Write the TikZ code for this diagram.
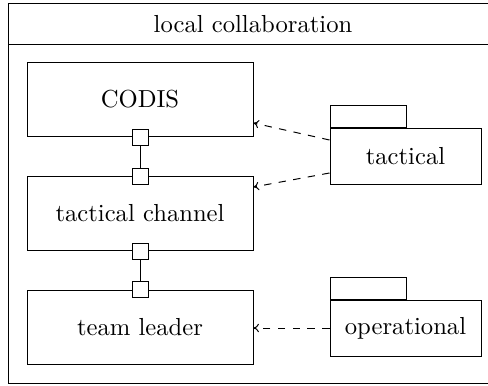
\documentclass[tikz,border=0pt]{standalone}
\usetikzlibrary{calc,positioning,arrows.meta}
\tikzset{
  partbox/.style={draw, minimum width=226\pxu, minimum height=74\pxu, inner sep=0pt},
  portbox/.style={draw, fill=white, minimum size=16\pxu, inner sep=0pt},
  pkgbody/.style={draw, minimum width=151\pxu, minimum height=56\pxu, inner sep=0pt},
  pkgtab/.style={draw, minimum width=76\pxu, minimum height=22\pxu, inner sep=0pt, anchor=south west},
  usedep/.style={dashed, -{To[length=2.2pt, width=3.4pt]}}
}
\newcommand{\pxu}{*0.406pt}
\begin{document}
\begin{tikzpicture}[x=0.406pt, y=-0.406pt]
		%%%%% START %%%%%
		\useasboundingbox (0, 0) rectangle (488, 385);
		
		\draw (8, 3) rectangle (495, 383);
		\draw (8, 44) -- (495, 44);
		\node (title) at (253, 24) {local collaboration};
		
		\node[partbox] (codis) at (140, 99.5) {CODIS};
		\node[partbox] (chan) at (140, 213.5) {tactical channel};
		\node[partbox] (lead) at (140, 327) {team leader};
		
		\node[portbox] (p1) at (codis.south) {};
		\node[portbox] (p2) at (chan.north) {};
		\node[portbox] (p3) at (chan.south) {};
		\node[portbox] (p4) at (lead.north) {};
		\draw (p1) -- (p2);
		\draw (p3) -- (p4);
		
		\node[pkgbody] (tac) at (405.5, 156) {tactical};
		\node[pkgtab] (tactab) at (tac.north west) {};
		\node[pkgbody] (oper) at (405.5, 328) {operational};
		\node[pkgtab] (opertab) at (oper.north west) {};
		
		\draw[usedep] ($(tac.west)+(0,-16)$) -- ($(codis.south east)+(0,-14)$);
		\draw[usedep] ($(tac.west)+(0,17)$) -- ($(chan.north east)+(0,11)$);
		\draw[usedep] (oper.west) -- (oper.west -| lead.east);
		
		%%%%% END %%%%%
	\end{tikzpicture}
\end{document}
